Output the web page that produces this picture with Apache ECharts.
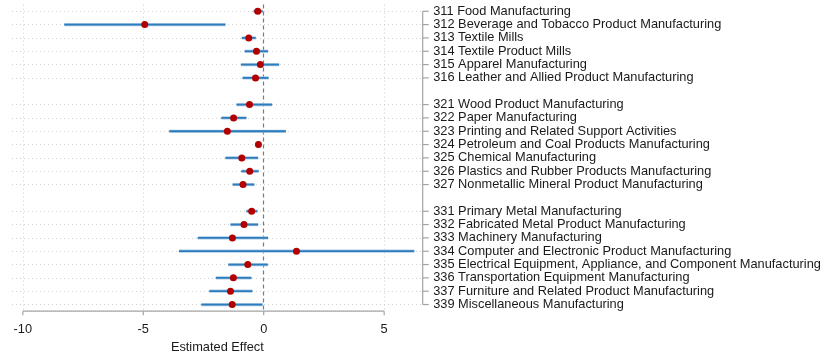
<!DOCTYPE html>
<html>
<head>
<meta charset="utf-8">
<script src="https://cdn.jsdelivr.net/npm/echarts@6/dist/echarts.min.js"></script>
<style>
  html, body { margin: 0; padding: 0; background: #fff; }
  #chart { width: 823px; height: 356px; }
</style>
</head>
<body>
<div id="chart"></div>
<script>
// NAICS 3-digit manufacturing industries
const industries = [
  '311 Food Manufacturing',
  '312 Beverage and Tobacco Product Manufacturing',
  '313 Textile Mills',
  '314 Textile Product Mills',
  '315 Apparel Manufacturing',
  '316 Leather and Allied Product Manufacturing',
  '321 Wood Product Manufacturing',
  '322 Paper Manufacturing',
  '323 Printing and Related Support Activities',
  '324 Petroleum and Coal Products Manufacturing',
  '325 Chemical Manufacturing',
  '326 Plastics and Rubber Products Manufacturing',
  '327 Nonmetallic Mineral Product Manufacturing',
  '331 Primary Metal Manufacturing',
  '332 Fabricated Metal Product Manufacturing',
  '333 Machinery Manufacturing',
  '334 Computer and Electronic Product Manufacturing',
  '335 Electrical Equipment, Appliance, and Component Manufacturing',
  '336 Transportation Equipment Manufacturing',
  '337 Furniture and Related Product Manufacturing',
  '339 Miscellaneous Manufacturing'
];

// Point estimates and confidence bounds
const estimates = [-0.25, -4.94, -0.62, -0.30, -0.14, -0.34,
                   -0.59, -1.25, -1.51, -0.22, -0.91, -0.58, -0.86,
                   -0.50, -0.82, -1.30, 1.36, -0.66, -1.26, -1.38, -1.31];
const lowerCI   = [-0.42, -8.28, -0.91, -0.79, -0.94, -0.88,
                   -1.13, -1.76, -3.92, -0.30, -1.59, -0.93, -1.29,
                   -0.72, -1.38, -2.74, -3.52, -1.47, -1.99, -2.26, -2.59];
const upperCI   = [-0.04, -1.59, -0.33, 0.18, 0.64, 0.20,
                   0.35, -0.72, 0.92, -0.14, -0.23, -0.21, -0.39,
                   -0.26, -0.23, 0.18, 6.25, 0.17, -0.51, -0.47, -0.05];

const xTicks = [-10, -5, 0, 5];
const xRange = [-10.45, 6.6];

// Category slots: a blank row separates each 2-digit subsector
const categories = [];
const slotOf = [];
let gapCount = 0;
industries.forEach((name, i) => {
  if (i > 0 && name.slice(0, 2) !== industries[i - 1].slice(0, 2)) {
    gapCount += 1;
    categories.push(' '.repeat(gapCount));
  }
  slotOf.push(categories.length);
  categories.push(name);
});

const ciData = industries.map((_, i) => [lowerCI[i], upperCI[i], slotOf[i]]);
const pointData = industries.map((_, i) => [estimates[i], slotOf[i]]);

const font = '"Liberation Sans", Arial, sans-serif';
const axisGray = '#a3a3a3';
const gridGray = '#cfcfcf';
const textColor = '#1a1a1a';
const labelSize = 12.8;

const chart = echarts.init(document.getElementById('chart'), null, { renderer: 'canvas' });

chart.setOption({
  animation: false,
  backgroundColor: '#ffffff',
  textStyle: { fontFamily: font },
  grid: {
    left: 12, right: 400.3, top: 4.6, bottom: 44.8,
    outerBoundsMode: 'none', containLabel: false
  },
  xAxis: {
    type: 'value',
    min: xRange[0], max: xRange[1],
    name: 'Estimated Effect',
    nameLocation: 'middle',
    nameGap: 30,
    nameTextStyle: { fontSize: labelSize, color: textColor, fontFamily: font },
    axisLine: { show: false },
    axisTick: { show: false },
    axisLabel: { customValues: xTicks, margin: 11.5, fontSize: labelSize, color: textColor, fontFamily: font },
    splitLine: { show: false }
  },
  yAxis: {
    type: 'category',
    data: categories,
    inverse: true,
    position: 'right',
    axisLine: { show: false },
    axisTick: { show: false },
    axisLabel: { interval: 0, margin: 10.5, fontSize: labelSize, color: textColor, fontFamily: font },
    splitLine: { show: false }
  },
  series: [
    {
      // reference lines, partial axis lines and ticks
      type: 'custom',
      z: 1,
      clip: false,
      silent: true,
      data: [[0, 0]],
      renderItem: (params, api) => {
        const cs = params.coordSys;
        const bottom = cs.y + cs.height;
        const right = cs.x + cs.width;
        const xa = api.coord([xTicks[0], 0])[0];
        const xb = api.coord([xTicks[xTicks.length - 1], 0])[0];
        const ya = api.coord([0, 0])[1];
        const yb = api.coord([0, categories.length - 1])[1];
        const style = { stroke: axisGray, lineWidth: 1.2 };
        const children = [
          { type: 'line', shape: { x1: xa, y1: bottom, x2: xb, y2: bottom }, style },
          { type: 'line', shape: { x1: right, y1: ya, x2: right, y2: yb }, style }
        ];
        xTicks.forEach(v => {
          const x = api.coord([v, 0])[0];
          children.push({ type: 'line', shape: { x1: x, y1: bottom, x2: x, y2: bottom + 4 }, style });
        });
        slotOf.forEach(s => {
          const y = api.coord([0, s])[1];
          children.push({ type: 'line', shape: { x1: right, y1: y, x2: right + 6, y2: y }, style });
        });
        return { type: 'group', children };
      },
      markLine: {
        silent: true,
        z: 1,
        symbol: 'none',
        label: { show: false },
        animation: false,
        data: [
          ...xTicks.filter(v => v !== 0).map(v => ({
            xAxis: v, lineStyle: { color: gridGray, type: [1, 3], width: 1 }
          })),
          ...industries.map(name => ({
            yAxis: name, lineStyle: { color: gridGray, type: [1, 3], width: 1 }
          })),
          { xAxis: 0, lineStyle: { color: '#7a7a7a', type: [4, 3], width: 1.2 } }
        ]
      }
    },
    {
      // confidence intervals
      type: 'custom',
      z: 3,
      data: ciData,
      encode: { x: [0, 1], y: 2 },
      renderItem: (params, api) => {
        const p0 = api.coord([api.value(0), api.value(2)]);
        const p1 = api.coord([api.value(1), api.value(2)]);
        return {
          type: 'group',
          children: [
            { type: 'line', shape: { x1: p0[0], y1: p0[1], x2: p1[0], y2: p1[1] },
              style: { stroke: '#a9cbe8', lineWidth: 3.2 } },
            { type: 'line', shape: { x1: p0[0], y1: p0[1], x2: p1[0], y2: p1[1] },
              style: { stroke: '#2f7cbd', lineWidth: 1.8 } }
          ]
        };
      }
    },
    {
      // point estimates
      type: 'scatter',
      z: 4,
      data: pointData,
      symbol: 'circle',
      symbolSize: 7,
      itemStyle: { color: '#b20000', opacity: 1, borderWidth: 0 }
    }
  ]
});
</script>
</body>
</html>
